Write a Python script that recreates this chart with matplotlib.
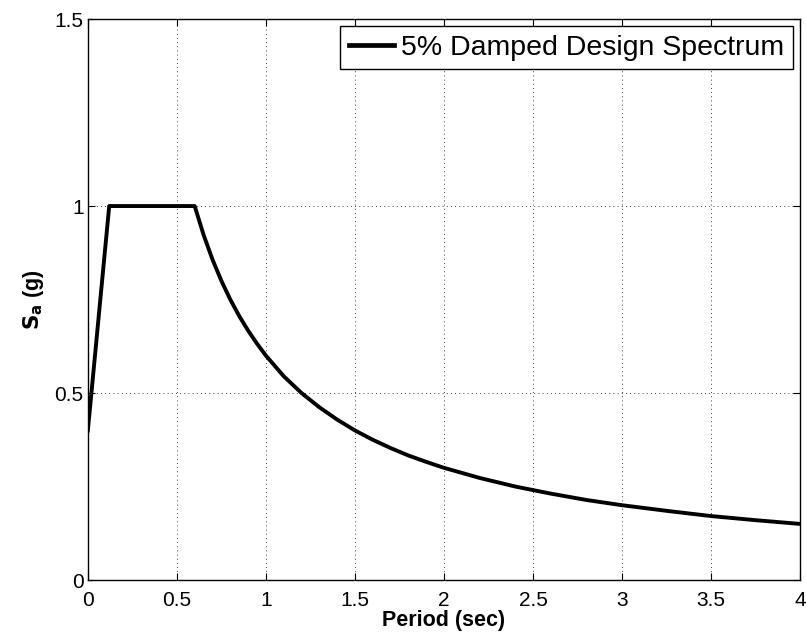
import numpy as np
import matplotlib
matplotlib.use('Agg')
import matplotlib.pyplot as plt

plt.rcParams['font.family'] = ['Liberation Sans', 'DejaVu Sans']

# design spectrum
period = [0.0, 0.12, 0.6, 0.65, 0.7, 0.75, 0.8, 0.85, 0.9, 0.95, 1.0, 1.1, 1.2, 1.3,
          1.4, 1.5, 1.6, 1.7, 1.8, 1.9, 2.0, 2.2, 2.4, 2.6, 2.8, 3.0, 3.25, 3.5,
          3.75, 4.0]
sa = [0.4, 1.0, 1.0, 0.923, 0.857, 0.8, 0.75, 0.706, 0.667, 0.632, 0.6, 0.545,
      0.5, 0.462, 0.429, 0.4, 0.375, 0.353, 0.333, 0.316, 0.3, 0.273, 0.25,
      0.231, 0.214, 0.2, 0.185, 0.171, 0.16, 0.15]
xticks = [0, 0.5, 1, 1.5, 2, 2.5, 3, 3.5, 4]
yticks = [0, 0.5, 1, 1.5]

fig = plt.figure(figsize=(8.06, 6.35), dpi=100)
ax = fig.add_axes([0.109, 0.0866, 0.8836, 0.8834])

ax.plot(period, sa, 'k', lw=2.8, label='5% Damped Design Spectrum')

ax.set_xlim(0, 4)
ax.set_ylim(0, 1.5)
ax.set_xticks(xticks)
ax.set_xticklabels(['0', '0.5', '1', '1.5', '2', '2.5', '3', '3.5', '4'])
ax.set_yticks(yticks)
ax.set_yticklabels(['0', '0.5', '1', '1.5'])
ax.tick_params(direction='in', length=5, width=0.8, labelsize=15,
               top=True, right=True)
ax.tick_params(axis='x', pad=8)
ax.tick_params(axis='y', pad=3)
ax.grid(True, color='k', ls=(0, (1, 4)), lw=0.6)
for s in ax.spines.values():
    s.set_linewidth(1.0)

ax.set_xlabel('Period (sec)', fontsize=15.5, fontweight='bold', labelpad=0)
ax.set_ylabel(r'$\mathbf{S_a}$ (g)', fontsize=15.5, fontweight='bold', labelpad=6)

leg = ax.legend(loc='upper right', fontsize=20.5, fancybox=False, framealpha=1,
                edgecolor='k', borderaxespad=0.25, handlelength=1.6,
                handletextpad=0.25, borderpad=0.3)
leg.get_frame().set_linewidth(1.0)
leg.get_lines()[0].set_linewidth(3.4)

fig.savefig('out.png', dpi=100)
